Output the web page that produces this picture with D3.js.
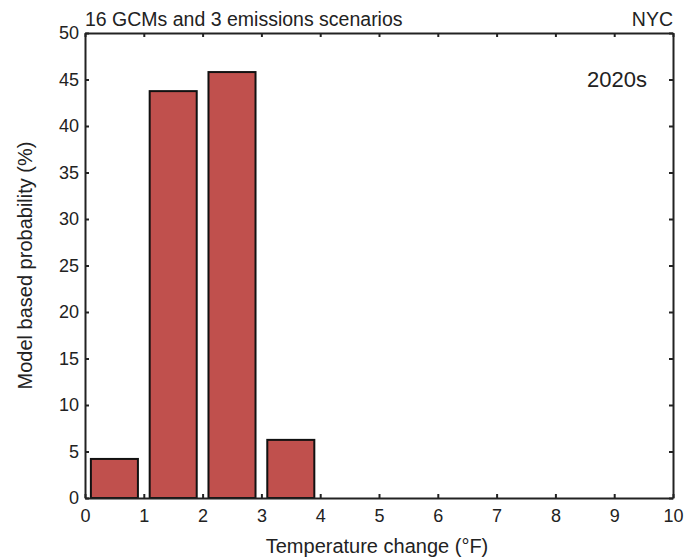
<!DOCTYPE html>
<meta charset="utf-8" />
<script src="https://d3js.org/d3.v7.min.js"></script>
<style>
  body { margin: 0; background: #fff; }
  text { font-family: "Liberation Sans", Arial, sans-serif; fill: #222; }
</style>
<div id="chart"></div>
<script>
  // bin centres (°F) and model based probability (%)
  const binCenters = [0.5, 1.5, 2.5, 3.5];
  const probability = [4.2, 43.75, 45.8, 6.25];
  const binWidth = 0.8;
  const xTicks = [0, 1, 2, 3, 4, 5, 6, 7, 8, 9, 10];
  const yTicks = [0, 5, 10, 15, 20, 25, 30, 35, 40, 45, 50];

  const W = 686, H = 557;
  const margin = { top: 33, right: 13, bottom: 59, left: 85 },
    width = W - margin.left - margin.right,
    height = H - margin.top - margin.bottom;

  const svg = d3.select("#chart").append("svg")
    .attr("width", W).attr("height", H);
  const g = svg.append("g")
    .attr("transform", `translate(${margin.left},${margin.top})`);

  const x = d3.scaleLinear().domain([0, 10]).range([0, width]);
  const y = d3.scaleLinear().domain([0, 50]).range([height, 0]);

  // bars
  g.selectAll("rect.bar")
    .data(binCenters)
    .enter()
    .append("rect")
    .attr("class", "bar")
    .attr("x", (d) => x(d - binWidth / 2))
    .attr("y", (d, i) => y(probability[i]))
    .attr("width", x(binWidth) - x(0))
    .attr("height", (d, i) => height - y(probability[i]))
    .attr("fill", "#c0504d")
    .attr("stroke", "#111")
    .attr("stroke-width", 2);

  // axes, ticks pointing inward
  const tick = 4;
  const axBottom = g.append("g").attr("transform", `translate(0,${height})`)
    .call(d3.axisBottom(x).tickValues(xTicks).tickSizeInner(-tick).tickSizeOuter(0).tickPadding(11));
  const axTop = g.append("g")
    .call(d3.axisTop(x).tickValues(xTicks).tickSizeInner(-tick).tickSizeOuter(0).tickFormat(""));
  const axLeft = g.append("g")
    .call(d3.axisLeft(y).tickValues(yTicks).tickSizeInner(-tick).tickSizeOuter(0).tickPadding(6));
  const axRight = g.append("g").attr("transform", `translate(${width},0)`)
    .call(d3.axisRight(y).tickValues(yTicks).tickSizeInner(-tick).tickSizeOuter(0).tickFormat(""));

  [axBottom, axTop, axLeft, axRight].forEach((a) => {
    a.select(".domain").attr("stroke", "#222").attr("stroke-width", 2);
    a.selectAll(".tick line").attr("stroke", "#222").attr("stroke-width", 2);
    a.selectAll(".tick text").style("font-size", "18px").attr("fill", "#333");
  });

  // labels
  svg.append("text")
    .attr("x", margin.left).attr("y", 26)
    .style("font-size", "19.5px")
    .text("16 GCMs and 3 emissions scenarios");
  svg.append("text")
    .attr("x", margin.left + width).attr("y", 26)
    .attr("text-anchor", "end")
    .style("font-size", "19.5px")
    .text("NYC");
  svg.append("text")
    .attr("x", margin.left + width - 26).attr("y", 87)
    .attr("text-anchor", "end")
    .style("font-size", "22px")
    .text("2020s");
  svg.append("text")
    .attr("x", margin.left + width / 2 - 2).attr("y", 553)
    .attr("text-anchor", "middle")
    .style("font-size", "20px")
    .text("Temperature change (°F)");
  svg.append("text")
    .attr("transform", `translate(32,${margin.top + height / 2}) rotate(-90)`)
    .attr("text-anchor", "middle")
    .style("font-size", "20px")
    .text("Model based probability (%)");
</script>
